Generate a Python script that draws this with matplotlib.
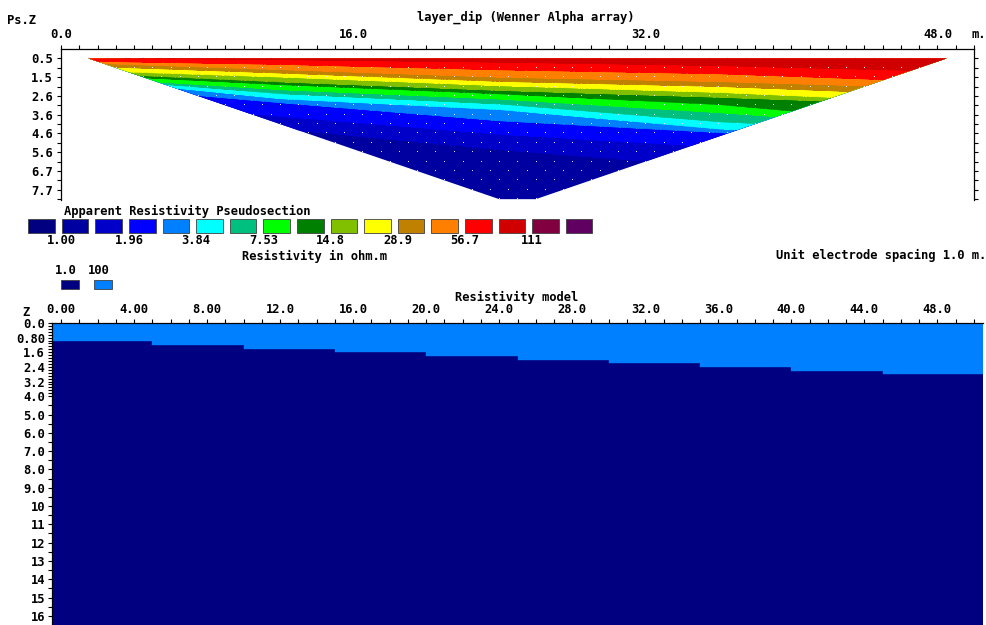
import numpy as np
import matplotlib
matplotlib.use('Agg')
import matplotlib.pyplot as plt
from matplotlib.patches import Polygon, Rectangle

plt.rcParams['font.family'] = ['DejaVu Sans Mono']
plt.rcParams['font.weight'] = 'bold'
plt.rcParams['font.size'] = 8.7

W, H = 987, 625

# survey: Wenner alpha, 51 electrodes 1 m apart, a = 1..16
electrodes = np.arange(0, 51)
a_levels = np.arange(1, 17)
z_factor = 0.519   # pseudodepth / a

# contour levels of the colour scale (ohm.m) and their colours
level_values = [1.00, 1.40, 1.96, 2.74, 3.84, 5.38, 7.53, 10.5, 14.8,
                20.7, 28.9, 40.5, 56.7, 79.4, 111, 155]
level_colors = ['#000080', '#0000A0', '#0000C8', '#0000FF', '#0080FF',
                '#00FFFF', '#00C080', '#00FF00', '#008000', '#80C000',
                '#FFFF00', '#C08000', '#FF8000', '#FF0000', '#D00000',
                '#800040', '#600060']
cbar_labels = ['1.00', '1.96', '3.84', '7.53', '14.8', '28.9', '56.7', '111']

# contour boundaries: depth (m) at bnd_x
bnd_x = [0, 12, 24, 36, 50]
bnd_value = [79.4, 56.7, 40.5, 28.9, 20.7, 14.8, 10.5, 7.53, 5.38, 3.84,
             2.74, 1.96, 1.40]
bnd_depth = [
    [0.45, 0.57, 0.71, 0.90, 1.25],
    [0.63, 0.83, 1.13, 1.35, 1.85],
    [0.71, 1.12, 1.54, 1.78, 2.20],
    [0.88, 1.31, 1.77, 2.05, 2.60],
    [1.13, 1.53, 2.01, 2.38, 3.00],
    [1.25, 1.80, 2.27, 2.65, 3.15],
    [1.34, 1.95, 2.46, 3.05, 4.30],
    [1.47, 2.23, 2.75, 3.50, 4.50],
    [1.48, 2.45, 3.02, 4.00, 4.70],
    [1.50, 2.73, 3.33, 4.40, 5.00],
    [1.90, 2.95, 3.95, 4.60, 5.50],
    [2.70, 3.70, 4.70, 5.40, 6.30],
    [3.30, 4.40, 5.55, 6.50, 7.50],
]
ps_ylabels = ['0.5', '1.5', '2.6', '3.6', '4.6', '5.6', '6.7', '7.7']

# resistivity model: 100 ohm.m layer over 1 ohm.m, thickening to the right
seg_edges = [-0.5, 5, 10, 15, 20, 25, 30, 35, 40, 45, 50.5]
top_thick = [1.0, 1.2, 1.4, 1.6, 1.8, 2.0, 2.2, 2.4, 2.6, 2.8]
model_base = 17.0
model_rho = [1.0, 100]
model_colors = ['#000080', '#0080FF']
model_xlabels = ['0.00', '4.00', '8.00', '12.0', '16.0', '20.0', '24.0',
                 '28.0', '32.0', '36.0', '40.0', '44.0', '48.0']
model_zticks = [0, 0.8, 1.6, 2.4, 3.2, 4.0, 5, 6, 7, 8, 9, 10, 11, 12, 13,
                14, 15, 16]
model_zlabels = ['0.0', '0.80', '1.6', '2.4', '3.2', '4.0', '5.0', '6.0',
                 '7.0', '8.0', '9.0', '10', '11', '12', '13', '14', '15', '16']

fig = plt.figure(figsize=(W / 100, H / 100), dpi=100)

# ---- pseudosection ----
ax1 = fig.add_axes([61 / W, 1 - 200 / H, 913 / W, 151 / H])
ax1.set_xlim(0, 50)
ax1.set_ylim(8.35, 0)

n_max = a_levels[-1]
tri_x = [electrodes[0] + 1.5, electrodes[-1] - 1.5,
         electrodes[-1] - 1.5 * n_max, electrodes[0] + 1.5 * n_max]
tri_z = [z_factor, z_factor, z_factor * n_max, z_factor * n_max]
base_col = level_colors[level_values.index(bnd_value[-1])]
tri = Polygon(list(zip(tri_x, tri_z)), closed=True, facecolor=base_col,
              edgecolor='none', zorder=1)
ax1.add_patch(tri)
for val, dep in zip(bnd_value[::-1], bnd_depth[::-1]):
    col = level_colors[level_values.index(val) + 1]
    fb = ax1.fill_between(bnd_x, 0, dep, color=col, lw=0.3, zorder=2)
    fb.set_clip_path(tri)

# datum points
dx, dz = [], []
for a in a_levels:
    mids = electrodes[:len(electrodes) - 3 * a] + 1.5 * a
    dx += list(mids)
    dz += [z_factor * a] * len(mids)
ax1.plot(dx, dz, ',', color='#e8e8ff', zorder=3)

ax1.spines['bottom'].set_visible(False)
for s in ['top', 'left', 'right']:
    ax1.spines[s].set_linewidth(0.9)
ax1.xaxis.tick_top()
ax1.set_xticks([0, 16, 32, 48])
ax1.set_xticklabels(['0.0', '16.0', '32.0', '48.0'])
ax1.set_xticks(np.arange(0, 51, 1), minor=True)
ax1.tick_params(axis='x', which='both', top=True, bottom=False, length=3,
                width=0.8, pad=3)
ax1.set_yticks(z_factor * a_levels)
ylabs = [''] * len(a_levels)
ylabs[::2] = ps_ylabels
ax1.set_yticklabels(ylabs)
ax1.tick_params(axis='y', which='both', left=True, right=True, length=3,
                width=0.8, pad=3)

# ---- resistivity model ----
ax2 = fig.add_axes([52 / W, 0, 931 / W, (H - 323) / H])
ax2.set_xlim(-0.5, 50.5)
ax2.set_ylim(16.5, 0)
widths = np.diff(seg_edges)
thick = np.array(top_thick)
ax2.bar(seg_edges[:-1], model_base - thick, width=widths, bottom=thick,
        align='edge', color=model_colors[0], edgecolor=model_colors[0], lw=0.3)
ax2.bar(seg_edges[:-1], thick, width=widths, bottom=0, align='edge',
        color=model_colors[1], edgecolor=model_colors[1], lw=0.3)
ax2.spines['bottom'].set_visible(False)
ax2.spines['right'].set_visible(False)
ax2.spines['top'].set_linewidth(0.9)
ax2.spines['left'].set_linewidth(0.9)
ax2.xaxis.tick_top()
ax2.set_xticks(np.arange(0, 49, 4))
ax2.set_xticklabels(model_xlabels)
ax2.set_xticks(np.arange(0, 51, 1), minor=True)
ax2.tick_params(axis='x', which='both', top=True, bottom=False, length=3,
                width=0.8, pad=2)
ax2.set_yticks(model_zticks)
ax2.set_yticklabels(model_zlabels)
ax2.set_yticks(np.concatenate([np.arange(0, 4.0, 0.16), np.arange(4, 16.5, 0.5)]),
               minor=True)
ax2.tick_params(axis='y', which='both', left=True, length=3, width=0.8, pad=2)

# ---- texts and colour legends (pixel overlay) ----
ov = fig.add_axes([0, 0, 1, 1])
ov.set_xlim(0, W)
ov.set_ylim(H, 0)
ov.axis('off')
ov.patch.set_alpha(0)

ov.text(7, 20, 'Ps.Z', ha='left', va='center')
ov.text(526, 17, 'layer_dip (Wenner Alpha array)', ha='center', va='center')
ov.text(972, 35, 'm.', ha='left', va='center')

ov.text(64, 211, 'Apparent Resistivity Pseudosection', ha='left', va='center')
for i, c in enumerate(level_colors):
    ov.add_patch(Rectangle((28.2 + i * 33.6, 219), 26.5, 14, facecolor=c,
                           edgecolor='#404040', lw=0.6))
for k, lab in enumerate(cbar_labels):
    ov.text(28.2 + (2 * k + 1) * 33.6, 241, lab, ha='center', va='center')
ov.text(315, 256, 'Resistivity in ohm.m', ha='center', va='center')
ov.text(986, 255, 'Unit electrode spacing 1.0 m.', ha='right', va='center')

for j, (r, c) in enumerate(zip(model_rho, model_colors)):
    ov.text(66 + j * 33, 271, f'{r:g}' if r >= 100 else f'{r:.1f}',
            ha='center', va='center')
    ov.add_patch(Rectangle((61 + j * 33, 280), 18, 8.5, facecolor=c,
                           edgecolor='#404040', lw=0.6))
ov.text(517, 297, 'Resistivity model', ha='center', va='center')
ov.text(26, 312, 'Z', ha='center', va='center')

fig.savefig('out.png', dpi=100, facecolor='white')
